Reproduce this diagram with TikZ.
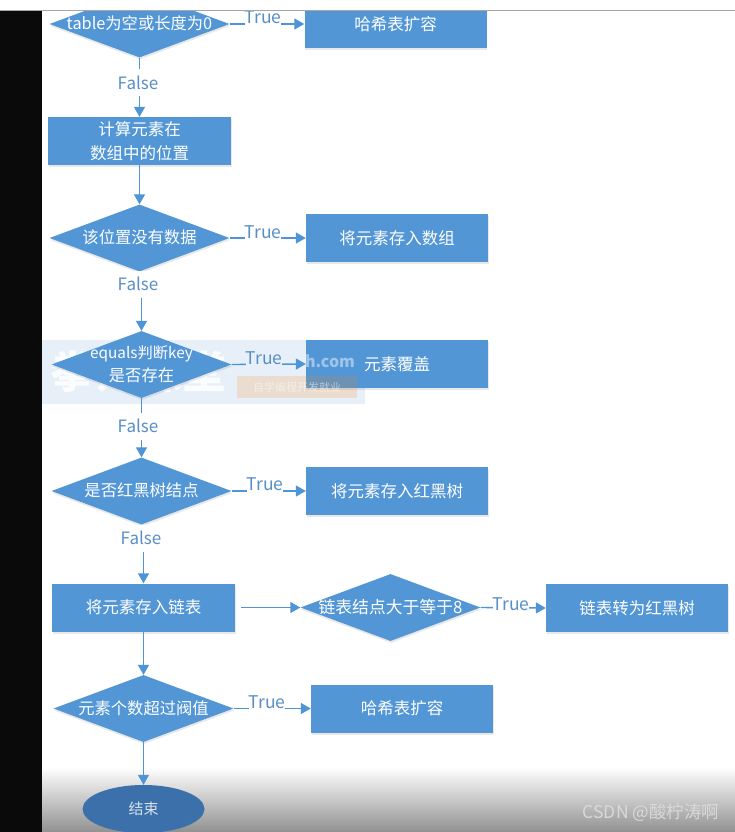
\documentclass[tikz,border=0pt]{standalone}
\usepackage{fontspec}
\setmainfont{Noto Sans CJK SC}
\usetikzlibrary{arrows.meta,shapes.geometric,shadows}
\newlength{\du}
\setlength{\du}{1pt}
\definecolor{dialinecolor}{rgb}{0.310000, 0.580000, 0.840000}
\definecolor{diafillcolor}{rgb}{0.320000, 0.590000, 0.840000}
\definecolor{dialabelcolor}{rgb}{0.350000, 0.560000, 0.780000}
\definecolor{diaendcolor}{rgb}{0.230000, 0.440000, 0.670000}
% text that does not widen its diamond
\newcommand{\testtext}[1]{\makebox[0pt]{\smash{\raisebox{-0.32em}{\begin{tabular}{@{}c@{}}#1\end{tabular}}}}}
\tikzset{
  softshadow/.style={drop shadow={shadow xshift=0.5\du,shadow yshift=-2\du,opacity=0.18}},
  flowbox/.style={rectangle,fill=diafillcolor,text=white,minimum width=182\du,minimum height=48\du,inner sep=0pt,align=center,font=\fontsize{16.5\du}{24\du}\selectfont,softshadow},
  flowtest/.style={diamond,fill=diafillcolor,text=white,minimum width=180\du,minimum height=67\du,aspect=2.68,inner sep=0pt,font=\fontsize{16.3\du}{23\du}\selectfont,softshadow},
  flowline/.style={draw=dialinecolor,line width=1.4\du,-{Triangle[length=10pt,width=11pt]}},
  answer/.style={fill=white,text=dialabelcolor,inner sep=0pt,minimum width=36\du,minimum height=22\du,font=\fontsize{17.5\du}{18\du}\selectfont},
  negative/.style={answer,minimum height=27\du,font=\fontsize{17\du}{18\du}\selectfont},
}
\begin{document}
\begin{tikzpicture}[x=1\du,y=-1\du]
\useasboundingbox (0,0) rectangle (735,832);
\fill[white] (0,0) rectangle (735,832);
% bottom fade
\shade[top color=white,bottom color=black!43] (42,767) rectangle (735,832);
% watermark
\fill[diafillcolor!14!white] (42,340) rectangle (365,404);
\node[text=white,opacity=0.85,font=\fontsize{44\du}{44\du}\selectfont\bfseries] (markname) at (138,372) {拳师课堂};
% tests
\node[flowtest] (emptytest) at (139.5,24) {\testtext{table为空或长度为0}};
\node[flowtest] (slottest) at (139.5,238) {\testtext{该位置没有数据}};
\node[flowtest] (keytest) at (141.5,364.5) {\testtext{{\fontsize{15.3\du}{23\du}\selectfont equals判断key}\\是否存在}};
\node[flowtest] (treetest) at (141.5,491) {\testtext{是否红黑树结点}};
\node[flowtest] (listtest) at (390.5,607.5) {\testtext{\fontsize{16.8\du}{23\du}\selectfont 链表结点大于等于8}};
\node[flowtest] (sizetest) at (143.5,708.5) {\testtext{元素个数超过阀值}};
% boxes
\node[flowbox] (growfirst) at (395.5,24) {哈希表扩容};
\node[flowbox,minimum width=183\du] (locate) at (139.5,141) {计算元素在\\数组中的位置};
\node[flowbox] (store) at (397,238) {将元素存入数组};
\node[flowbox] (cover) at (397,364) {元素覆盖};
\node[flowbox] (treestore) at (397,491) {将元素存入红黑树};
\node[flowbox,minimum width=183\du] (liststore) at (143.5,607.5) {将元素存入链表};
\node[flowbox] (convert) at (637,608) {链表转为红黑树};
\node[flowbox] (growlast) at (402,708.5) {哈希表扩容};
\node[ellipse,fill=diaendcolor,text=white!80!diaendcolor,minimum width=122\du,minimum height=48\du,inner sep=0pt,font=\fontsize{15\du}{18\du}\selectfont] (finish) at (143.5,809) {结束};
% connectors
\coordinate (liststart) at ([xshift=6\du]liststore.east);
\draw[flowline] (emptytest.east) -- (growfirst.west);
\draw[flowline] (emptytest.south) -- (locate.north);
\draw[flowline] (locate.south) -- (slottest.north);
\draw[flowline] (slottest.east) -- (store.west);
\draw[flowline] (keytest.north |- slottest.south) -- (keytest.north);
\draw[flowline] (keytest.east) -- (cover.west);
\draw[flowline] (keytest.south) -- (treetest.north);
\draw[flowline] (treetest.east) -- (treestore.west);
\draw[flowline] (liststore.north |- treetest.south) -- (liststore.north);
\draw[flowline] (liststart) -- (listtest.west);
\draw[flowline] (listtest.east) -- (convert.west);
\draw[flowline] (liststore.south) -- (sizetest.north);
\draw[flowline] (sizetest.east) -- (growlast.west);
\draw[flowline] (sizetest.south) -- (finish.north);
% labels
\node[answer] (true1) at (263,17) {True};
\node[answer] (true2) at (263,232) {True};
\node[answer,fill=diafillcolor!14!white] (true3) at (264,358) {True};
\node[answer] (true4) at (265,484) {True};
\node[answer] (true5) at (511,604) {True};
\node[answer] (true6) at (267,702) {True};
\node[negative] (false1) at (138,83) {False};
\node[negative] (false2) at (138,284) {False};
\node[negative] (false3) at (138,426) {False};
\node[negative] (false4) at (141,538) {False};
% watermark, upper part
\fill[orange,opacity=0.16] (237,376) rectangle (357,398);
\node[text=white,opacity=0.45,font=\fontsize{16\du}{18\du}\selectfont\bfseries] (markurl) at (330,361) {h.com};
\node[text=white,opacity=0.5,font=\fontsize{11\du}{12\du}\selectfont] (markline) at (297,387) {自学编程开发就业};
% frame
\fill[black!96] (0,10) rectangle (42,832);
\fill[white] (0,0) rectangle (735,10);
\draw[black!35,line width=1\du] (0,10.5) -- (735,10.5);
\node[text=white!85!black,font=\fontsize{17.5\du}{18\du}\selectfont] (csdn) at (651,813) {CSDN @酸柠涛啊};
\end{tikzpicture}
\end{document}
